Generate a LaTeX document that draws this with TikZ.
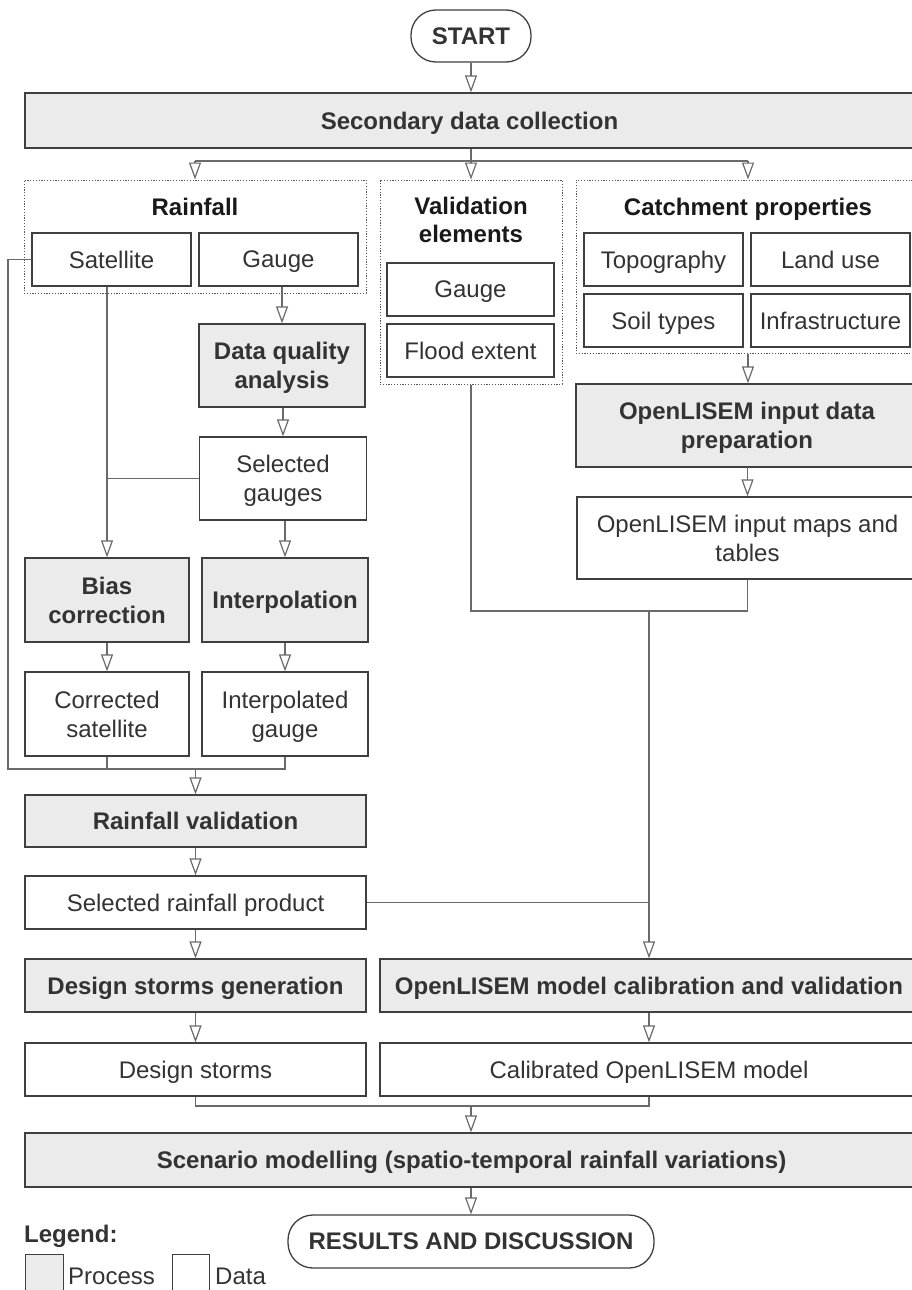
\documentclass[tikz,border=0pt]{standalone}
\usepackage{fontspec}
\setmainfont{Liberation Sans}
\usetikzlibrary{arrows.meta}
\definecolor{txt}{HTML}{333333}
\definecolor{bord}{HTML}{3F3F3F}
\definecolor{procfill}{HTML}{EBEBEB}
\definecolor{linecol}{HTML}{6A6A6A}
\definecolor{dotcol}{HTML}{555555}
\begin{document}
\begin{tikzpicture}[x=1pt,y=-1pt,
  box/.style={draw=bord, line width=1.3pt, text=txt, align=center, inner sep=0pt,
    text depth=0pt, font=\fontsize{24}{29}\selectfont},
  proc/.style={box, fill=procfill, font=\bfseries\fontsize{24}{29}\selectfont},
  data/.style={box, fill=white},
  term/.style={box, fill=white, rounded corners=25pt, font=\bfseries\fontsize{24}{29}\selectfont},
  grp/.style={draw=dotcol, line width=1pt, dash pattern=on 1.2pt off 1.6pt, inner sep=0pt},
  gtitle/.style={align=center, text=black!90, inner sep=0pt, text depth=0pt, font=\bfseries\fontsize{24}{28}\selectfont},
  conn/.style={draw=linecol, line width=1.4pt},
  arr/.style={conn, -{Triangle[open, length=17pt, width=12pt, line width=1.2pt]}},
  legtext/.style={anchor=west, text=txt, inner sep=0pt, text depth=0pt, font=\fontsize{24}{29}\selectfont}
]
\useasboundingbox (0,0) rectangle (912,1290);

% terminals and main processes
\node[term, minimum width=120pt, minimum height=52pt] (start) at (471,36) {START};
\node[proc, minimum width=889pt, minimum height=55pt] (sdc) at (469.5,120.5) {Secondary data collection};

% groups
\node[grp, minimum width=342pt, minimum height=113pt] (rainG) at (195,236.5) {};
\node[gtitle] (rainT) at (195,207) {Rainfall};
\node[grp, minimum width=182pt, minimum height=204pt] (valG) at (471,282) {};
\node[gtitle] (valT) at (471,220) {Validation\\elements};
\node[grp, minimum width=338pt, minimum height=173pt] (catG) at (745,266.5) {};
\node[gtitle] (catT) at (748,207) {Catchment properties};

% group contents
\node[data, minimum width=159pt, minimum height=53pt] (sat) at (111.5,259.5) {Satellite};
\node[data, minimum width=159pt, minimum height=53pt] (gau1) at (278.5,259.5) {Gauge};
\node[data, minimum width=167pt, minimum height=53pt] (gau2) at (470.5,289.5) {Gauge};
\node[data, minimum width=167pt, minimum height=53pt] (flood) at (470.5,350.5) {Flood extent};
\node[data, minimum width=159pt, minimum height=53pt] (topo) at (663.5,259.5) {Topography};
\node[data, minimum width=159pt, minimum height=53pt] (land) at (830.5,259.5) {Land use};
\node[data, minimum width=159pt, minimum height=53pt] (soil) at (663.5,320.5) {Soil types};
\node[data, minimum width=159pt, minimum height=53pt] (infra) at (830.5,320.5) {Infrastructure};

% right column
\node[proc, minimum width=342pt, minimum height=83pt] (prep) at (747,425.5) {OpenLISEM input data\\preparation};
\node[data, minimum width=341pt, minimum height=82pt] (maps) at (747.5,538) {OpenLISEM input maps and\\tables};

% rainfall chain
\node[proc, minimum width=166pt, minimum height=83pt] (dqa) at (282,365.5) {Data quality\\analysis};
\node[data, minimum width=167pt, minimum height=83pt] (selg) at (283,478.5) {Selected\\gauges};
\node[proc, minimum width=164pt, minimum height=84pt] (bias) at (107,600) {Bias\\correction};
\node[proc, minimum width=166pt, minimum height=84pt] (interp) at (285,600) {Interpolation};
\node[data, minimum width=164pt, minimum height=84pt] (corr) at (107,714) {Corrected\\satellite};
\node[data, minimum width=166pt, minimum height=84pt] (interpg) at (285,714) {Interpolated\\gauge};

% lower part
\node[proc, minimum width=341pt, minimum height=52pt] (rval) at (195.5,821) {Rainfall validation};
\node[data, minimum width=341pt, minimum height=53pt] (srp) at (195.5,902.5) {Selected rainfall product};
\node[proc, minimum width=341pt, minimum height=53pt] (dsg) at (195.5,985.5) {Design storms generation};
\node[proc, minimum width=538pt, minimum height=53pt] (cal) at (649,985.5) {OpenLISEM model calibration and validation};
\node[data, minimum width=341pt, minimum height=53pt] (ds) at (195.5,1069.5) {Design storms};
\node[data, minimum width=538pt, minimum height=53pt] (calm) at (649,1069.5) {Calibrated OpenLISEM model};
\node[proc, minimum width=893pt, minimum height=54pt] (scen) at (471.5,1160) {Scenario modelling (spatio-temporal rainfall variations)};
\node[term, minimum width=366pt, minimum height=53pt] (res) at (471,1241.5) {RESULTS AND DISCUSSION};

% legend
\node[legtext, font=\bfseries\fontsize{24}{29}\selectfont] (legT) at (24,1234) {Legend:};
\node[proc, minimum width=38pt, minimum height=40pt, anchor=north west] (legP) at (25,1254) {};
\node[legtext] (legPt) at (68,1276) {Process};
\node[data, minimum width=37pt, minimum height=40pt, anchor=north west] (legD) at (172,1254) {};
\node[legtext] (legDt) at (215,1276) {Data};

% connectors: top
\coordinate (j0) at (471,161);
\coordinate (jL) at (195,161);
\coordinate (jR) at (748,161);
\draw[arr] (start.south) -- (start.south |- sdc.north);
\draw[conn] (j0 |- sdc.south) -- (j0);
\draw[conn] (jL) -- (jR);
\draw[arr] (jL) -- (jL |- rainG.north);
\draw[arr] (j0) -- (j0 |- valG.north);
\draw[arr] (jR) -- (jR |- catG.north);

% rainfall chain
\draw[arr] (dqa.north |- gau1.south) -- (dqa.north);
\draw[arr] (selg.north |- dqa.south) -- (selg.north);
\draw[arr] (bias.north |- sat.south) -- (bias.north);
\coordinate (jS) at (bias.north |- selg.west);
\draw[conn] (selg.west) -- (jS);
\draw[arr] (interp.north |- selg.south) -- (interp.north);
\draw[arr] (bias.south) -- (corr.north);
\draw[arr] (interp.south) -- (interpg.north);
\coordinate (jB) at (8,769);
\draw[conn] (sat.west) -| (jB) -- (jB -| interpg.south) -- (interpg.south);
\draw[conn] (corr.south) -- (corr.south |- jB);
\coordinate (jV) at (rval.north |- jB);
\draw[arr] (jV) -- (rval.north);

% right column
\draw[arr] (jR |- catG.south) -- (jR |- prep.north);
\draw[arr] (prep.south) -- (maps.north |- prep.south) -- (maps.north);
\coordinate (jF) at (471,611);
\coordinate (jC) at (649,611);
\draw[conn] (maps.south) |- (jF) -- (valG.south);
\draw[arr] (jC) -- (cal.north);
\draw[conn] (srp.east) -- (srp.east -| jC);

% lower chain
\draw[arr] (rval.south) -- (srp.north);
\draw[arr] (srp.south) -- (dsg.north);
\draw[arr] (dsg.south) -- (ds.north);
\draw[arr] (cal.south) -- (calm.north);
\coordinate (jD) at (471,1106);
\draw[conn] (ds.south) |- (calm.south |- jD) -- (calm.south);
\draw[arr] (jD) -- (jD |- scen.north);
\draw[arr] (res.north |- scen.south) -- (res.north);
\end{tikzpicture}
\end{document}
